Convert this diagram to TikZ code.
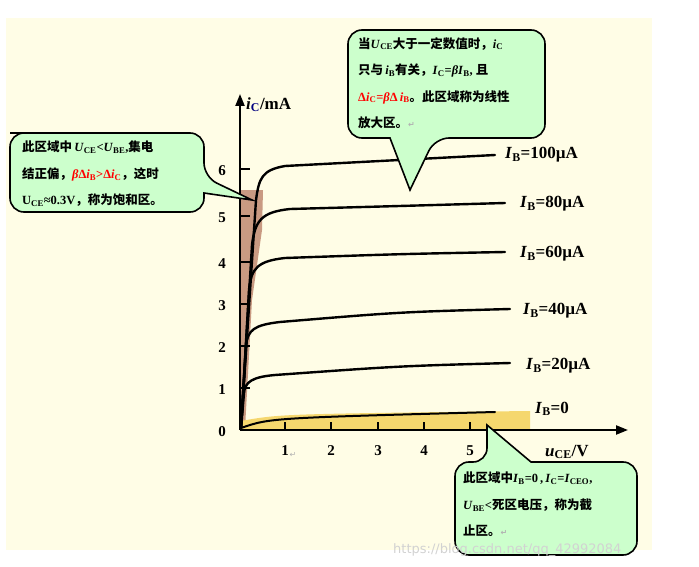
\documentclass[tikz,border=0pt]{standalone}
\usepackage{fontspec}
\setmainfont{Liberation Serif}
\newfontfamily\cjkf{Noto Sans CJK SC}
\newfontfamily\djv{DejaVu Sans}
\usetikzlibrary{arrows.meta}
\definecolor{bgy}{HTML}{FFFDE6}
\definecolor{callg}{HTML}{CCFFCC}
\definecolor{satb}{HTML}{C99A82}
\definecolor{cuty}{HTML}{F5D76E}
\newcommand{\cjt}[1]{{\cjkf #1}}
\tikzset{
  curve/.style={line width=2.4pt,line cap=round},
  callout/.style={fill=callg,draw=black,line width=1.6pt,rounded corners=14pt},
  ctext/.style={anchor=north west,align=left,font=\bfseries\fontsize{12.5}{26.5}\selectfont,inner sep=0pt},
  ibl/.style={anchor=west,font=\bfseries\fontsize{17}{20}\selectfont,inner sep=0pt},
  tick/.style={font=\bfseries\fontsize{15}{18}\selectfont,inner sep=0pt},
}
\begin{document}
\begin{tikzpicture}[x=1pt,y=-1pt]
\useasboundingbox (0,0) rectangle (699,567);
\fill[bgy] (6,18) rectangle (652,550);
\fill[satb] (241,190) -- (263,190) -- (262,230) -- (252,300) -- (245,429) -- (241,429) -- cycle;
\fill[cuty] (241,429) -- (241,421) .. controls (280,414) .. (530,411) -- (530,429) -- cycle;
\coordinate (O) at (240,430);
\coordinate (YT) at (240,94);
\coordinate (XT) at (628,430);
\draw[line width=2.2pt,-{Triangle[length=12pt,width=9pt]}] (O) -- (YT);
\draw[line width=2.2pt,-{Triangle[length=12pt,width=9pt]}] (O) -- (XT);
\foreach \yy/\ll in {388/1,346/2,304/3,262/4,216/5,169/6}{
  \draw[line width=2pt] (240,\yy) -- (250,\yy);
  \node[tick] (yl\ll) at (222,\yy+2) {\ll};}
\node[tick] (yl0) at (222,432) {0};
\foreach \xx/\ll in {285/1,331/2,378/3,424/4,470/5}{
  \draw[line width=2pt] (\xx,430) -- (\xx,422);
  \node[tick] (xl\ll) at (\xx,451) {\ll};}
\node[font=\djv\fontsize{8}{8}\selectfont,text=gray!60] (ret1) at (293,455) {↵};
\node[anchor=south west,font=\bfseries\fontsize{17}{20}\selectfont,inner sep=0pt] (ylab) at (246,112) {\textit{i}\textsubscript{\textcolor{blue!50!black}{C}}/mA};
\node[anchor=west,font=\bfseries\fontsize{17}{20}\selectfont,inner sep=0pt] (xlab) at (545,452) {\textit{u}\textsubscript{CE}/V};
\draw[curve] (241,428) -- (256,200) .. controls (259,178) and (262,170) .. (285,166) .. controls (380,161) .. (495,155);
\draw[curve] (241,428) -- (252,245) .. controls (255,220) and (262,212) .. (290,209) .. controls (400,206) .. (505,203);
\draw[curve] (241,428) -- (249,290) .. controls (251,268) and (258,261) .. (285,258) .. controls (400,254) .. (505,252);
\draw[curve] (241,428) -- (246,345) .. controls (248,330) and (254,325) .. (280,322) .. controls (400,312) .. (510,309);
\draw[curve] (241,428) -- (244,393) .. controls (245,382) and (252,377) .. (275,375) .. controls (400,366) .. (510,363);
\draw[line width=2pt,line cap=round] (241,428) .. controls (270,418) .. (495,412);
\node[ibl] (ib100) at (505,155) {\textit{I}\textsubscript{B}=100µA};
\node[ibl] (ib80) at (520,204) {\textit{I}\textsubscript{B}=80µA};
\node[ibl] (ib60) at (520,254) {\textit{I}\textsubscript{B}=60µA};
\node[ibl] (ib40) at (523,311) {\textit{I}\textsubscript{B}=40µA};
\node[ibl] (ib20) at (526,366) {\textit{I}\textsubscript{B}=20µA};
\node[ibl] (ib0) at (535,409) {\textit{I}\textsubscript{B}=0};
\draw[callout] (24,133) -- (204,133) -- (204,177) [sharp corners] -- (252,200) -- (204,193) [rounded corners=14pt] -- (204,212) -- (10,212) -- (10,133) -- cycle;
\node[ctext] (tl) at (22,141) {\cjt{此区域中}\,\textit{U}\textsubscript{CE}<\textit{U}\textsubscript{BE},\cjt{集电}\\
\cjt{结正偏，}\textcolor{red}{\textit{β}Δ\textit{i}\textsubscript{B}>Δ\textit{i}\textsubscript{C}}\cjt{，这时}\\
U\textsubscript{CE}≈0.3V\cjt{，称为饱和区。}};
\draw[callout] (348,30) -- (545,30) -- (545,138) -- (435,138) [sharp corners] -- (410,190) -- (390,138) [rounded corners=14pt] -- (348,138) -- cycle;
\node[ctext] (tt) at (358,37) {\cjt{当}\textit{U}\textsubscript{CE}\cjt{大于一定数值时，}\textit{i}\textsubscript{C}\\
\cjt{只与}\,\textit{i}\textsubscript{B}\cjt{有关，}\textit{I}\textsubscript{C}=\textit{βI}\textsubscript{B}, \cjt{且}\\
\textcolor{red}{Δ\textit{i}\textsubscript{C}=\textit{β}Δ\,\textit{i}\textsubscript{B}}\cjt{。此区域称为线性}\\
\cjt{放大区。}{\djv\color{gray!60}\fontsize{8}{8}\selectfont ↵}};
\draw[callout] (455,462) -- (487,462) [sharp corners] -- (487,425) -- (531,462) [rounded corners=14pt] -- (637,462) -- (637,555) -- (455,555) -- cycle;
\node[ctext] (tb) at (463,472) {\cjt{此区域中}\textit{I}\textsubscript{B}=0\,,\,\textit{I}\textsubscript{C}=\textit{I}\textsubscript{CEO},\\
\textit{U}\textsubscript{BE}<\cjt{死区电压，称为截}\\
\cjt{止区。}{\djv\color{gray!60}\fontsize{8}{8}\selectfont ↵}};
\node[anchor=west,font=\djv\fontsize{13}{13}\selectfont,text=gray!35,inner sep=0pt] (wm) at (393,550) {https://blog.csdn.net/qq\_42992084};
\end{tikzpicture}
\end{document}
